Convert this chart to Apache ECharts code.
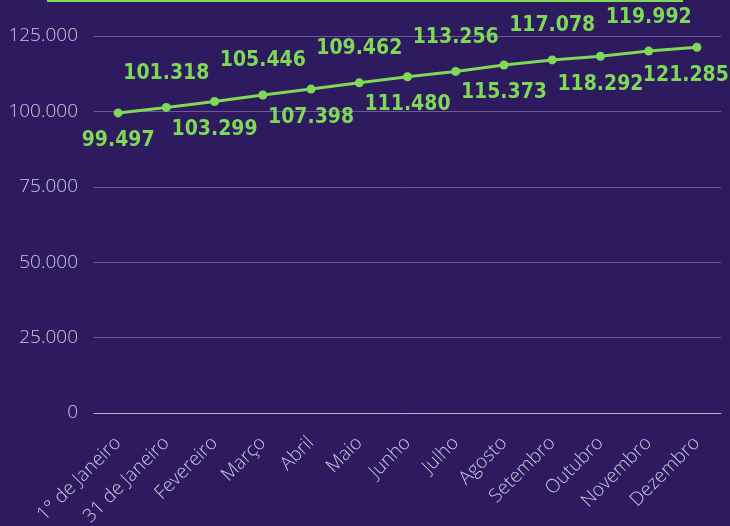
<!DOCTYPE html>
<html><head><meta charset="utf-8">
<script src="https://cdn.jsdelivr.net/npm/echarts@6/dist/echarts.min.js"></script>
<style>html,body{margin:0;padding:0;background:#2d1a5f;}#c{width:730px;height:526px;}</style>
</head><body><div id="c"></div>
<script>
const categories = ["1° de Janeiro","31 de Janeiro","Fevereiro","Março","Abril","Maio","Junho","Julho","Agosto","Setembro","Outubro","Novembro","Dezembro"];
const values = [99497,101318,103299,105446,107398,109462,111480,113256,115373,117078,118292,119992,121285];
const yTicks = [0,25000,50000,75000,100000,125000];

function fmt(v){return String(v).replace(/\B(?=(\d{3})+(?!\d))/g,'.');}

const chart = echarts.init(document.getElementById('c'));
chart.setOption({
  backgroundColor:'#2d1a5f',
  animation:false,
  graphic:[{type:'rect',shape:{x:47,y:0,width:636,height:2},style:{fill:'#7ed957'}}],
  grid:{left:94,right:9,top:36,bottom:113,containLabel:false,outerBoundsMode:'none'},
  xAxis:{type:'category',data:categories,boundaryGap:true,
    axisLine:{show:true,lineStyle:{color:'#b8b0cc',width:1}},
    axisTick:{show:false},
    axisLabel:{rotate:45,color:'#cfc8de',fontFamily:'Open Sans',fontWeight:300,fontSize:19,margin:27,interval:0}},
  yAxis:{type:'value',min:yTicks[0],max:yTicks[yTicks.length-1],interval:25000,
    axisLine:{show:false},axisTick:{show:false},
    splitLine:{lineStyle:{color:'#6b5b9c',width:1}},
    axisLabel:{color:'#cfc8de',fontFamily:'Open Sans',fontWeight:300,fontSize:19,margin:16,formatter:v=>fmt(v)}},
  series:[{type:'line',data:values.map((v,i)=>({value:v,label:{position:i%2===0?'bottom':'top',distance:i%2===0?13:19,offset:i===values.length-1?[-11,0]:[0,0]}})),
    lineStyle:{color:'#7ed957',width:3},
    itemStyle:{color:'#7ed957'},
    symbol:'circle',symbolSize:9,
    label:{show:true,color:'#7ed957',fontFamily:'"DejaVu Sans Condensed",sans-serif',fontWeight:'bold',fontSize:21,formatter:p=>fmt(p.value)}}]
});
</script></body></html>
